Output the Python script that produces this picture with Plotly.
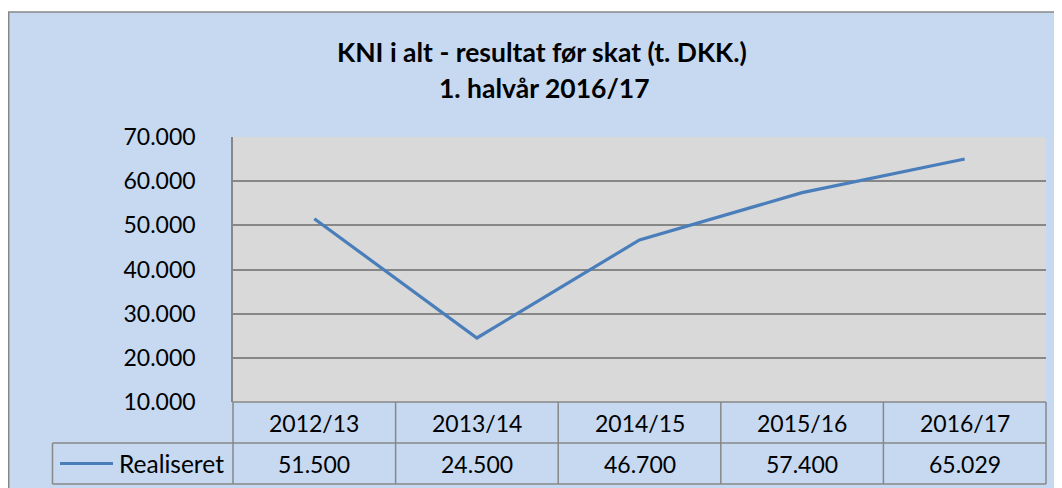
import plotly.graph_objects as go

# ---- data ----
categories = ["2012/13", "2013/14", "2014/15", "2015/16", "2016/17"]
series_name = "Realiseret"
values = [51500, 24500, 46700, 57400, 65029]
title_line1 = "KNI i alt - resultat før skat (t. DKK.)"
title_line2 = "1. halvår 2016/17"
y_ticks = [10000, 20000, 30000, 40000, 50000, 60000, 70000]

# ---- layout geometry (page pixels; page body has an 8px margin) ----
OFF = 8
PAGE_W, PAGE_H = 1062, 488
W, H = PAGE_W - OFF, PAGE_H - OFF
L, R, T, B = 233, 1046, 137, 402        # plot area in page pixels
PW, PH = R - L, B - T

def xp(px):
    return (px - L) / PW

def yp(py):
    return (B - py) / PH

BG = "#c6d9f1"
PLOT_BG = "#d9d9d9"
GRID = "#878787"
LINE = "#4a7ebb"
FONT = "Lato"
FS = 23

def fmt(v):
    return f"{v:,.0f}".replace(",", ".")

n = len(categories)
xs = [i + 0.5 for i in range(n)]

fig = go.Figure()
fig.add_trace(go.Scatter(x=xs, y=values, mode="lines",
                         line=dict(color=LINE, width=3.2),
                         name=series_name, showlegend=False,
                         hoverinfo="skip"))

shapes = []
annotations = []

# white strip at the top + outer chart border
shapes.append(dict(type="rect", xref="paper", yref="paper",
                   x0=xp(0), x1=xp(PAGE_W + 5), y0=yp(0), y1=yp(12),
                   fillcolor="white", line=dict(width=0), layer="above"))
shapes.append(dict(type="line", xref="paper", yref="paper",
                   x0=xp(8), x1=xp(PAGE_W + 5), y0=yp(12), y1=yp(12),
                   line=dict(color=GRID, width=1.5)))
shapes.append(dict(type="line", xref="paper", yref="paper",
                   x0=xp(8.7), x1=xp(8.7), y0=yp(12), y1=yp(PAGE_H + 5),
                   line=dict(color=GRID, width=1.5)))

# data table below the plot
row1_bot, row2_bot = 443, 484
leg_left = 52.5
col_w = PW / n
for px_y, x_start in [(B, L), (row1_bot, leg_left), (row2_bot, leg_left)]:
    shapes.append(dict(type="line", xref="paper", yref="paper",
                       x0=xp(x_start), x1=xp(R), y0=yp(px_y), y1=yp(px_y),
                       line=dict(color=GRID, width=1.5)))
for i in range(n + 1):
    px_x = L + i * col_w
    shapes.append(dict(type="line", xref="paper", yref="paper",
                       x0=xp(px_x), x1=xp(px_x), y0=yp(B), y1=yp(row2_bot),
                       line=dict(color=GRID, width=1.5)))
shapes.append(dict(type="line", xref="paper", yref="paper",
                   x0=xp(leg_left), x1=xp(leg_left), y0=yp(row1_bot), y1=yp(row2_bot),
                   line=dict(color=GRID, width=1.5)))
# legend key in table
shapes.append(dict(type="line", xref="paper", yref="paper",
                   x0=xp(60), x1=xp(113), y0=yp(463.5), y1=yp(463.5),
                   line=dict(color=LINE, width=3.2)))
annotations.append(dict(xref="paper", yref="paper", x=xp(171.5), y=yp(463.5),
                        text=series_name, showarrow=False, xanchor="center",
                        yanchor="middle", font=dict(family=FONT, size=24.5, color="black")))
for i, (c, v) in enumerate(zip(categories, values)):
    cx = xp(L + (i + 0.5) * col_w)
    annotations.append(dict(xref="paper", yref="paper", x=cx, y=yp(422.5),
                            text=c, showarrow=False, xanchor="center", yanchor="middle",
                            font=dict(family=FONT, size=FS, color="black")))
    annotations.append(dict(xref="paper", yref="paper", x=cx, y=yp(463.5),
                            text=fmt(v), showarrow=False, xanchor="center", yanchor="middle",
                            font=dict(family=FONT, size=FS, color="black")))

# title
annotations.append(dict(xref="paper", yref="paper", x=xp(541.5), y=yp(52),
                        text="<b>" + title_line1 + "</b>", showarrow=False,
                        xanchor="center", yanchor="middle",
                        font=dict(family=FONT, size=26.5, color="black")))
annotations.append(dict(xref="paper", yref="paper", x=xp(544.5), y=yp(88),
                        text="<b>" + title_line2 + "</b>", showarrow=False,
                        xanchor="center", yanchor="middle",
                        font=dict(family=FONT, size=26.5, color="black")))

fig.update_layout(
    width=W, height=H,
    margin=dict(l=L - OFF, r=PAGE_W - R, t=T - OFF, b=PAGE_H - B, pad=0),
    paper_bgcolor=BG, plot_bgcolor=PLOT_BG,
    separators=",.",
    showlegend=False,
    shapes=shapes, annotations=annotations,
    xaxis=dict(range=[0, n], showgrid=False, zeroline=False,
               showticklabels=False, ticks="", showline=False, fixedrange=True),
    yaxis=dict(range=[10000, 70000], tickvals=y_ticks,
               ticktext=[fmt(t) for t in y_ticks],
               showgrid=True, gridcolor=GRID, gridwidth=1.5,
               zeroline=False, showline=True, linecolor=GRID, linewidth=1.5,
               ticks="", ticklabelstandoff=31,
               tickfont=dict(family=FONT, size=FS, color="black")),
)

fig.write_html("out.html")
